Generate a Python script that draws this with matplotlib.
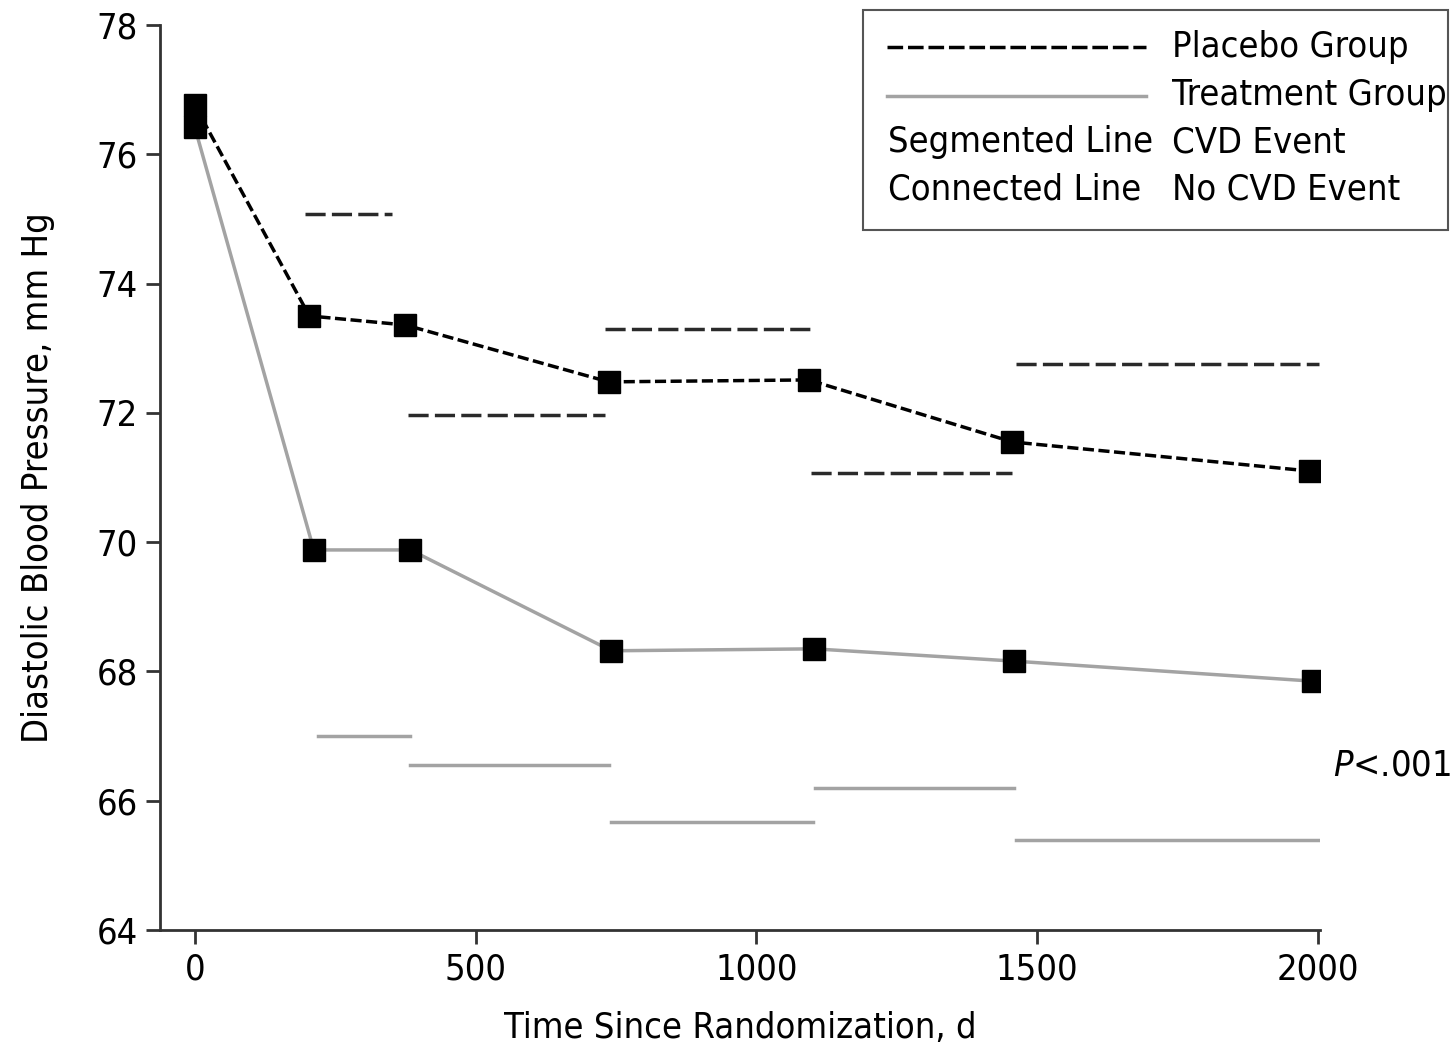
import numpy as np
import matplotlib.pyplot as plt
from matplotlib.lines import Line2D
from matplotlib.patches import Rectangle

plt.rcParams['font.family'] = ['DejaVu Sans']
plt.rcParams['font.stretch'] = 'condensed'
plt.rcParams['mathtext.fontset'] = 'custom'
plt.rcParams['mathtext.it'] = 'DejaVu Sans:italic:stretch=condensed'

# Grupo placebo (linha conectada, sem evento CVD)
dias_placebo = [0, 204, 375, 737, 1093, 1456, 1986]
pad_placebo = [76.76, 73.5, 73.36, 72.48, 72.51, 71.55, 71.1]

# Grupo tratamento
dias_trat = [0, 212, 384, 742, 1103, 1459, 1991]
pad_trat = [76.42, 69.88, 69.88, 68.32, 68.35, 68.16, 67.85]

# Segmentos (evento CVD) - inicio, fim, valor
seg_placebo_ini = [196, 379, 730, 1098, 1463]
seg_placebo_fim = [351, 730, 1096, 1456, 2002]
seg_placebo_val = [75.08, 71.97, 73.30, 71.07, 72.76]

seg_trat_ini = [219, 383, 742, 1105, 1463]
seg_trat_fim = [383, 737, 1101, 1459, 2006]
seg_trat_val = [67.0, 66.55, 65.67, 66.19, 65.39]

cinza = '#a3a3a3'
escuro = '#2a2a2a'
fs = 26
lw = 2.5

fig = plt.figure(figsize=(14.54, 10.47), dpi=100)
ax = fig.add_axes([0.110, 0.1117, 0.798, 0.8644])

for x0, x1, v in zip(seg_placebo_ini, seg_placebo_fim, seg_placebo_val):
    ax.plot([x0, x1], [v, v], color=escuro, lw=lw, dashes=(5.8, 1.8))
for x0, x1, v in zip(seg_trat_ini, seg_trat_fim, seg_trat_val):
    ax.plot([x0, x1], [v, v], color=cinza, lw=lw)

ax.plot(dias_trat, pad_trat, color=cinza, lw=lw, marker='s', ms=16,
        mfc='black', mec='black')
ax.plot(dias_placebo, pad_placebo, color='black', lw=lw, dashes=(3.2, 1.3),
        marker='s', ms=16, mfc='black', mec='black')

ax.set_xlim(-62, 2004)
ax.set_ylim(64, 78)
ax.set_xticks([0, 500, 1000, 1500, 2000])
ax.set_yticks([64, 66, 68, 70, 72, 74, 76, 78])
ax.spines['top'].set_visible(False)
ax.spines['right'].set_visible(False)
for s in ['left', 'bottom']:
    ax.spines[s].set_linewidth(2)
    ax.spines[s].set_color('#333333')
ax.tick_params(width=2, length=10, labelsize=fs, color='#333333', pad=6)
ax.set_xlabel('Time Since Randomization, d', fontsize=fs, labelpad=18)
ax.set_ylabel('Diastolic Blood Pressure, mm Hg', fontsize=fs, labelpad=30)

# legenda manual
fig.patches.append(Rectangle((0.5935, 0.7803), 0.4024, 0.2101, transform=fig.transFigure,
                             fill=False, edgecolor='#555555', lw=1.5))
fig.lines.append(Line2D([0.610, 0.788], [0.955, 0.955], transform=fig.transFigure,
                        color='black', lw=lw, dashes=(4.5, 1.4)))
fig.lines.append(Line2D([0.610, 0.788], [0.908, 0.908], transform=fig.transFigure,
                        color=cinza, lw=lw))
fig.text(0.806, 0.955, 'Placebo Group', fontsize=fs, va='center')
fig.text(0.806, 0.909, 'Treatment Group', fontsize=fs, va='center')
fig.text(0.611, 0.864, 'Segmented Line', fontsize=fs, va='center')
fig.text(0.806, 0.864, 'CVD Event', fontsize=fs, va='center')
fig.text(0.611, 0.819, 'Connected Line', fontsize=fs, va='center')
fig.text(0.806, 0.819, 'No CVD Event', fontsize=fs, va='center')

fig.text(0.998, 0.269, r'$P$<.001', fontsize=fs, ha='right', va='center')

fig.savefig('out.png', dpi=100)
